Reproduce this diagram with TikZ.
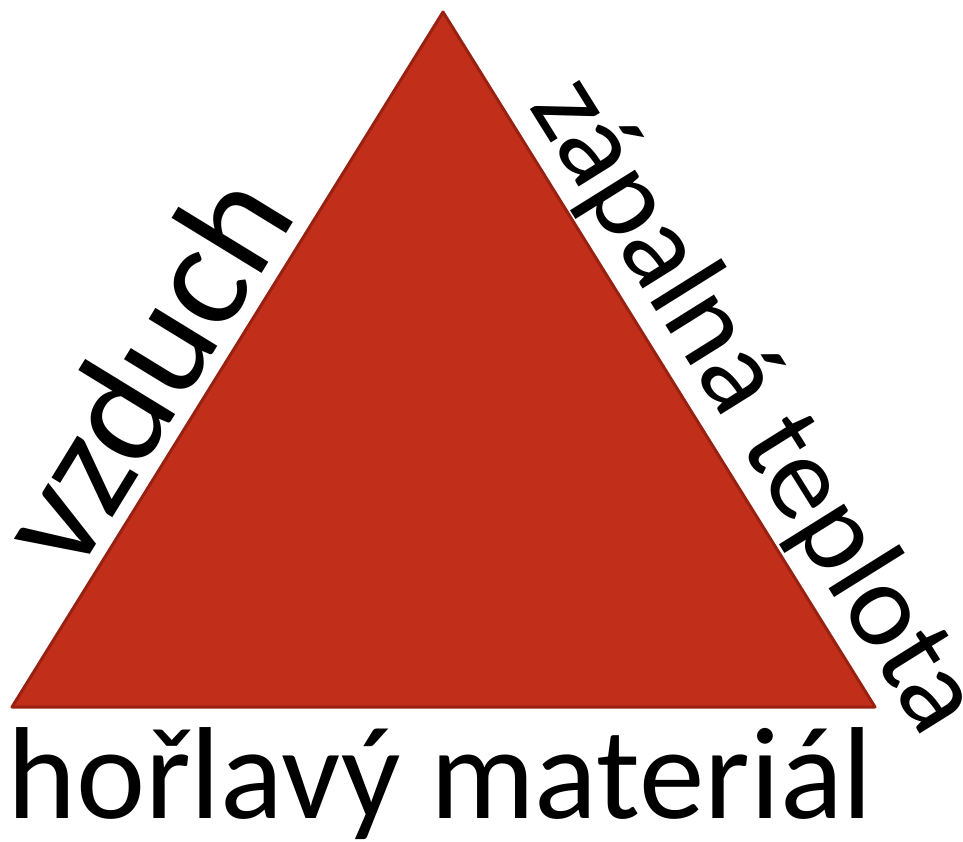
\documentclass[tikz,border=0pt]{standalone}
\usepackage{fontspec}
\setmainfont{Carlito}
\definecolor{fire}{HTML}{C12E1A}
\definecolor{fireedge}{HTML}{982112}
\begin{document}
\begin{tikzpicture}[x=1pt,y=-1pt,
  lbl/.style={inner sep=0pt, text=black}]
\useasboundingbox (0,0) rectangle (963,842);
\coordinate (top) at (443,12);
\coordinate (bl) at (12,707);
\coordinate (br) at (875,707);
\filldraw[fill=fire, draw=fireedge, line width=3pt, line join=round] (top) -- (bl) -- (br) -- cycle;
\node[lbl, anchor=base, font=\fontsize{131}{131}\selectfont] (bottom) at (440,818) {hořlavý materiál};
\node[lbl, anchor=base west, rotate=58.5, font=\fontsize{152}{152}\selectfont] (left) at (75,579) {vzduch};
\node[lbl, anchor=base west, rotate=-58, font=\fontsize{120}{120}\selectfont] (right) at (528,106) {zápalná teplota};
\end{tikzpicture}
\end{document}
